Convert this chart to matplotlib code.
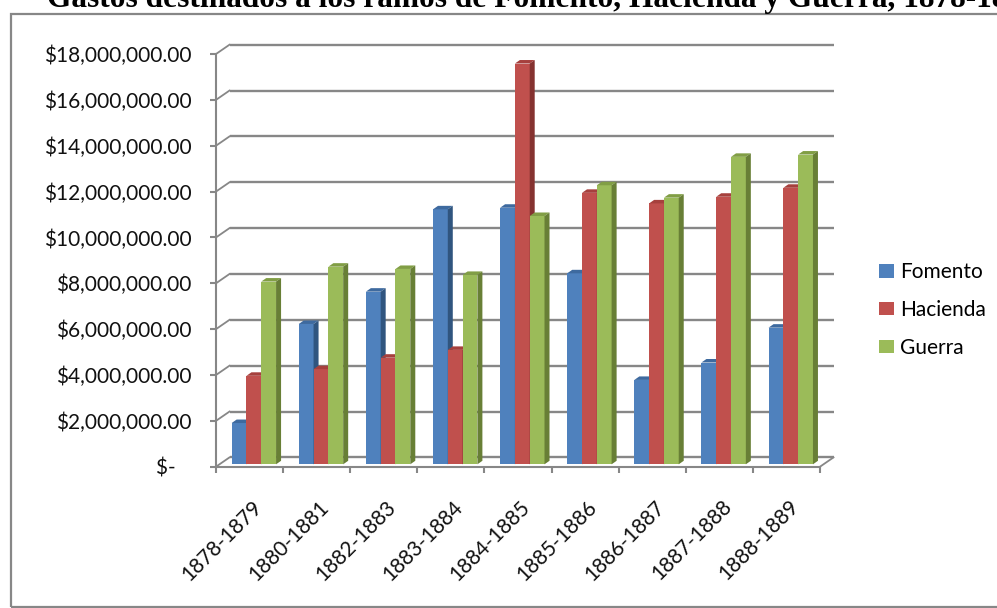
"""
Gastos destinados a los ramos de Fomento, Hacienda y Guerra (column chart, Excel-like 3D look)
"""

import numpy as np
import matplotlib
matplotlib.use('Agg')
import matplotlib.pyplot as plt
from matplotlib.patches import Polygon, Rectangle, Patch
from matplotlib.transforms import ScaledTranslation

# data (pesos)
periods = ['1878-1879', '1880-1881', '1882-1883', '1883-1884', '1884-1885',
           '1885-1886', '1886-1887', '1887-1888', '1888-1889']
fomento = [1.80e6, 6.12e6, 7.53e6, 11.12e6, 11.19e6, 8.33e6, 3.68e6, 4.44e6, 5.96e6]
hacienda = [3.86e6, 4.15e6, 4.65e6, 4.99e6, 17.48e6, 11.84e6, 11.38e6, 11.67e6, 12.06e6]
guerra = [7.97e6, 8.62e6, 8.52e6, 8.26e6, 10.83e6, 12.17e6, 11.63e6, 13.41e6, 13.51e6]
series_names = ['Fomento', 'Hacienda', 'Guerra']
y_ticks = [0, 2e6, 4e6, 6e6, 8e6, 10e6, 12e6, 14e6, 16e6, 18e6]

title = 'Gastos destinados a los ramos de Fomento, Hacienda y Guerra, 1878-1889'

# face colours: front, top, side
colors = [('#4F81BD', '#3E6A9F', '#30557F'),
          ('#C0504D', '#A6403D', '#853230'),
          ('#9BBB59', '#819E45', '#687F36')]
GRAY = '#878787'
FONT = 'Lato'
FS = 15

W, H = 997, 608
fig = plt.figure(figsize=(W / 100, H / 100), dpi=100)

# front plane of the chart, in pixels
left, right, y0, y18 = 216, 820, 466.7, 54.0
ax = fig.add_axes([left / W, (H - y0) / H, (right - left) / W, (y0 - y18) / H])
ax.set_xlim(-0.5, len(periods) - 0.5)
ax.set_ylim(0, 18e6)
ax.patch.set_visible(False)

px_x = (right - left) / len(periods)
px_y = (y0 - y18) / 18e6


def off(dx, dy):
    # pixel offset -> data offset
    return dx / px_x, dy / px_y


xmin, xmax = -0.5, len(periods) - 0.5

# back wall + floor
bx, by = off(13.5, 9.3)
for v in y_ticks:
    ax.plot([xmin + bx, xmax + bx], [v + by, v + by], color=GRAY, lw=1.7,
            zorder=1, clip_on=False, solid_capstyle='butt')
    ax.plot([xmin, xmin + bx], [v, v + by], color=GRAY, lw=1.3,
            zorder=1, clip_on=False)
ax.plot([xmax, xmax + bx], [0, by], color=GRAY, lw=1.3, zorder=1, clip_on=False)

# bars
w = 0.2206
gx, gy = off(4.3, 2.4)
ddx, ddy = off(5, 3.5)
x = np.arange(len(periods))
for s, vals in enumerate([fomento, hacienda, guerra]):
    front, top, side = colors[s]
    centers = x + (s - 1) * w + gx
    ax.bar(centers, vals, width=w, bottom=gy, color=front, lw=0,
           zorder=3 + 2 * s, clip_on=False)
    for c, v in zip(centers, vals):
        x0, x1 = c - w / 2, c + w / 2
        t = v + gy
        ax.add_patch(Polygon([(x0, t), (x1, t), (x1 + ddx, t + ddy), (x0 + ddx, t + ddy)],
                             closed=True, facecolor=top, lw=0, zorder=4 + 2 * s,
                             clip_on=False))
        ax.add_patch(Polygon([(x1, gy), (x1 + ddx, gy + ddy), (x1 + ddx, t + ddy), (x1, t)],
                             closed=True, facecolor=side, lw=0, zorder=4 + 2 * s,
                             clip_on=False))

# axes lines and ticks (front plane)
for sp in ['top', 'right']:
    ax.spines[sp].set_visible(False)
for sp in ['left', 'bottom']:
    ax.spines[sp].set_color(GRAY)
    ax.spines[sp].set_linewidth(1.5)
    ax.spines[sp].set_zorder(2)

ax.set_yticks(y_ticks)
ax.set_yticklabels(['${:,.2f}'.format(v) if v > 0 else '$-   ' for v in y_ticks],
                   fontfamily=FONT, fontsize=FS, color='#111111')
ax.tick_params(axis='y', direction='out', length=4.3, width=1.5, color=GRAY, pad=13.5)

ax.set_xticks(np.arange(xmin, xmax + 0.01, 1))
ax.set_xticklabels([])
ax.tick_params(axis='x', direction='out', length=4.3, width=1.5, color=GRAY)

lab_tr = ax.get_xaxis_transform() + ScaledTranslation(0.09, -0.37, fig.dpi_scale_trans)
for i, p in enumerate(periods):
    ax.text(i, 0, p, transform=lab_tr, rotation=45, ha='right', va='center',
            rotation_mode='anchor', fontfamily=FONT, fontsize=FS, color='#111111')

# legend
handles = [Patch(facecolor=c[0]) for c in colors]
fig.legend(handles, series_names, loc='center left',
           bbox_to_anchor=(879 / W, (H - 310) / H), frameon=False,
           prop={'family': FONT, 'size': FS}, handlelength=0.72, handleheight=0.62,
           handletextpad=0.3, labelspacing=0.85, borderpad=0, borderaxespad=0)

# chart border (runs off the right edge, like the original)
fig.add_artist(Rectangle((10.5 / W, 1.5 / H), 1.1, (H - 13.5 - 1.5) / H,
                         transform=fig.transFigure, facecolor='none',
                         edgecolor=GRAY, lw=1.6))

# title, clipped at the top of the picture as in the original
fig.text(46.7 / W, 1 - 7.3 / H, title, fontfamily='Liberation Serif',
         fontweight='bold', fontsize=22.6, ha='left', va='baseline')

fig.savefig('out.png', dpi=100)
